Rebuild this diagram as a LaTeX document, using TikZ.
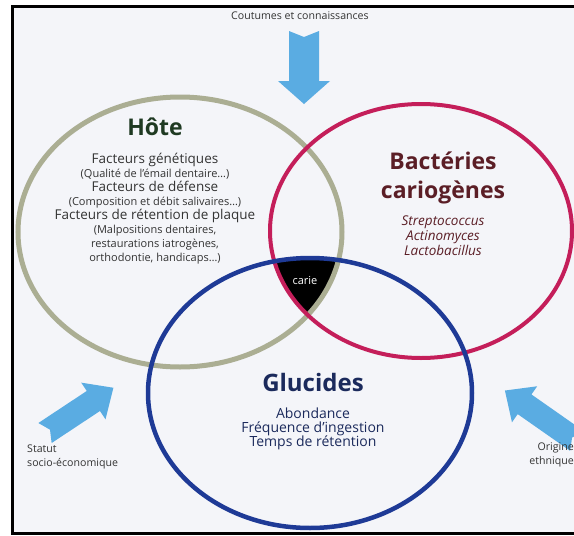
\documentclass[tikz,border=0pt]{standalone}
\usepackage[dvipsnames]{xcolor}
\usepackage{fontspec}
\setmainfont{Open Sans}
\usepackage{tikz}
\usetikzlibrary{positioning}

\definecolor{pagebg}{HTML}{F4F5F9}
\definecolor{hostgreen}{HTML}{ABAE93}
\definecolor{bactred}{HTML}{C41E5A}
\definecolor{glucblue}{HTML}{1E3A96}
\definecolor{arrowblue}{HTML}{5AACE2}
\definecolor{hostdark}{HTML}{1F3A22}
\definecolor{bactdark}{HTML}{5B1E26}
\definecolor{glucdark}{HTML}{1B2A5C}
\definecolor{textgray}{HTML}{333333}

% block arrow: length, head length, shaft half width, head half width
\newcommand{\blockarrow}[4]{%
  \fill[arrowblue] (0,-#3) -- (#1-#2,-#3) -- (#1-#2,-#4) -- (#1,0)
    -- (#1-#2,#4) -- (#1-#2,#3) -- (0,#3) -- (6,0) -- cycle;}
\newcommand{\subline}[1]{{\fontsize{11}{14}\selectfont #1}}

\begin{document}
\begin{tikzpicture}[x=1pt, y=-1pt,
    hostring/.style={draw=hostgreen, line width=5pt},
    bactring/.style={draw=bactred, line width=4pt},
    glucring/.style={draw=glucblue, line width=4.5pt},
    titlenode/.style={inner sep=0pt, align=center,
      font=\bfseries\fontsize{23}{29}\selectfont},
    listnode/.style={inner sep=0pt, align=center, text=textgray,
      font=\fontsize{13.5}{14}\selectfont},
    smallnode/.style={inner sep=0pt, text=textgray,
      font=\fontsize{10.6}{13.5}\selectfont}]
  \useasboundingbox (0,0) rectangle (574,536);
  \clip (0,0) rectangle (574,536);
  \fill[pagebg] (12,6) rectangle (574,533);

  % the carie zone
  \begin{scope}
    \clip (180,232) ellipse [x radius=162, y radius=135];
    \clip (421,231) ellipse [x radius=151, y radius=127];
    \fill[black] (310,393) ellipse [x radius=162, y radius=135];
  \end{scope}

  \draw[hostring] (180,232) ellipse [x radius=162, y radius=135];
  \draw[bactring] (421,231) ellipse [x radius=151, y radius=127];
  \draw[glucring] (310,393) ellipse [x radius=162, y radius=135];

  % arrows
  \begin{scope}[shift={(304,31)}, rotate=-90]
    \blockarrow{73}{23}{15}{26}
  \end{scope}
  \begin{scope}[shift={(45,433)}, rotate=33.5]
    \blockarrow{82}{24}{12}{22}
  \end{scope}
  \begin{scope}[shift={(577,441)}, rotate=145]
    \blockarrow{88}{24}{12}{22}
  \end{scope}

  \node[titlenode, text=hostdark] (hote) at (155,127) {Hôte};
  \node[listnode, below=17pt of hote] (hotelist) {Facteurs génétiques\\
    \subline{(Qualité de l’émail dentaire…)}\\
    Facteurs de défense\\
    \subline{(Composition et débit salivaires…)}\\
    Facteurs de rétention de plaque\\
    \subline{(Malpositions dentaires,}\\
    \subline{restaurations iatrogènes,}\\
    \subline{orthodontie, handicaps…)}};

  \node[titlenode, text=bactdark] (bact) at (443,178) {Bactéries\\cariogènes};
  \node[listnode, text=bactdark, below=11pt of bact,
    font=\itshape\fontsize{13.5}{15}\selectfont] (bactlist)
    {Streptococcus\\Actinomyces\\Lactobacillus};

  \node[titlenode, text=glucdark, font=\bfseries\fontsize{24}{29}\selectfont]
    (gluc) at (313,382) {Glucides};
  \node[listnode, text=glucdark, below=16pt of gluc,
    font=\fontsize{14}{14.2}\selectfont] (gluclist)
    {Abondance\\Fréquence d’ingestion\\Temps de rétention};

  \node[inner sep=0pt, text=white, font=\fontsize{11}{12}\selectfont]
    (carie) at (305,281) {carie};

  \node[smallnode] (coutumes) at (300,16) {Coutumes et connaissances};
  \node[smallnode, align=left, anchor=north west] (statut) at (27,445)
    {Statut\\socio-économique};
  \node[smallnode, align=right, anchor=north east] (origine) at (574,443)
    {Origine\\ethnique};

  \draw[black, line width=3pt] (574,6) -- (12,6) -- (12,533) -- (574,533);
\end{tikzpicture}
\end{document}
